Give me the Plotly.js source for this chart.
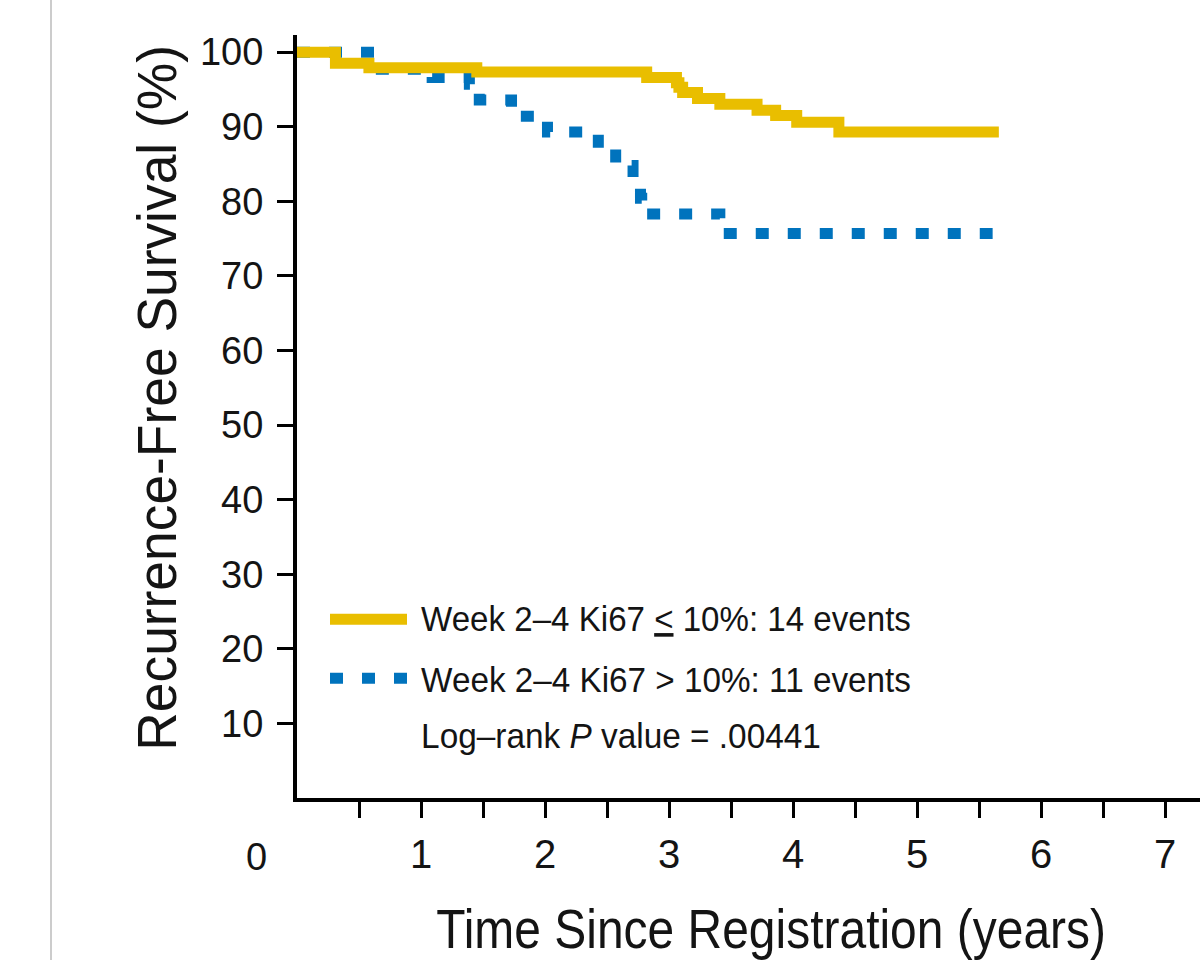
<!DOCTYPE html>
<html>
<head>
<meta charset="utf-8">
<script src="https://cdn.plot.ly/plotly-3.0.1.min.js"></script>
<style>
  html, body { margin: 0; padding: 0; background: #ffffff; }
  #chart { width: 1200px; height: 960px; }
</style>
</head>
<body>
<div id="chart"></div>
<script>
// Ki67 > 10% (blue, dotted) Kaplan–Meier step data
const highTime = [0, 0.625, 1.09, 1.39, 1.47, 1.73, 2.02, 2.43, 2.57, 2.71, 2.77, 2.78, 3.41, 5.61];
const highRFS  = [100, 97.7, 96.6, 95.7, 93.6, 91.4, 89.3, 87.0, 84.8, 82.6, 80.4, 78.3, 75.7, 75.7];
// Ki67 <= 10% (yellow, solid)
const lowTime = [0, 0.31, 0.58, 1.45, 2.82, 3.06, 3.08, 3.11, 3.23, 3.41, 3.71, 3.86, 4.03, 4.37, 5.66];
const lowRFS  = [100, 98.5, 97.9, 97.35, 96.6, 95.9, 95.3, 94.6, 93.8, 93.0, 92.2, 91.5, 90.6, 89.3, 89.3];

const seriesNames = ['Week 2–4 Ki67 <u>&lt;</u> 10%: 14 events', 'Week 2–4 Ki67 &gt; 10%: 11 events'];
const pValueText = 'Log–rank <i>P</i> value = .00441';
const xTickVals = [0.5, 1, 1.5, 2, 2.5, 3, 3.5, 4, 4.5, 5, 5.5, 6, 6.5, 7];
const xTickText = ['', '1', '', '2', '', '3', '', '4', '', '5', '', '6', '', '7'];
const yTickVals = [10, 20, 30, 40, 50, 60, 70, 80, 90, 100];
const yTickText = ['10', '20', '30', '40', '50', '60', '70', '80', '90', '100'];
const xTitle = 'Time Since Registration (years)';
const yTitle = 'Recurrence-Free Survival (%)';

const YELLOW = '#E9BE00';
const BLUE = '#0073BD';
const SANS = '"Liberation Sans", Arial, Helvetica, sans-serif';
const INK = '#141414';

// layout geometry
const W = 1200, H = 960;
const M = {l: 297, r: 0, t: 35, b: 162.4};
const plotW = W - M.l - M.r, plotH = H - M.t - M.b;
const px = p => (p - M.l) / plotW;        // pixel x -> paper x
const py = p => (H - M.b - p) / plotH;    // pixel y -> paper y

const traces = [
  {
    x: highTime, y: highRFS, type: 'scatter', mode: 'lines',
    line: {shape: 'hv', color: BLUE, width: 11, dash: '13px,19px'},
    name: 'Week 2–4 Ki67 > 10%', showlegend: false, hoverinfo: 'skip'
  },
  {
    x: lowTime, y: lowRFS, type: 'scatter', mode: 'lines',
    line: {shape: 'hv', color: YELLOW, width: 11},
    name: 'Week 2–4 Ki67 ≤ 10%', showlegend: false, hoverinfo: 'skip'
  }
];

const layout = {
  width: W, height: H,
  margin: M,
  paper_bgcolor: '#ffffff', plot_bgcolor: '#ffffff',
  showlegend: false,
  xaxis: {
    range: [0, (W - M.l - M.r) / 124], fixedrange: true,
    showgrid: false, zeroline: false,
    showline: true, linecolor: '#000', linewidth: 4,
    ticks: 'outside', ticklen: 16, tickwidth: 3, tickcolor: '#000',
    tickmode: 'array', tickvals: xTickVals, ticktext: xTickText,
    ticklabelstandoff: 2,
    tickfont: {family: SANS, size: 40, color: INK}
  },
  yaxis: {
    range: [0, 102.3], fixedrange: true,
    showgrid: false, zeroline: false,
    showline: true, linecolor: '#000', linewidth: 4,
    ticks: 'outside', ticklen: 16, tickwidth: 3, tickcolor: '#000',
    tickmode: 'array', tickvals: yTickVals, ticktext: yTickText,
    ticklabelstandoff: 6,
    tickfont: {family: SANS, size: 38, color: INK}
  },
  shapes: [
    {type: 'line', xref: 'paper', yref: 'paper', x0: px(51), x1: px(51), y0: py(0), y1: py(960),
     line: {color: '#cccccc', width: 2}},
    {type: 'line', xref: 'paper', yref: 'paper', x0: px(330), x1: px(407), y0: py(619), y1: py(619),
     line: {color: YELLOW, width: 11}},
    {type: 'line', xref: 'paper', yref: 'paper', x0: px(330), x1: px(407), y0: py(678), y1: py(678),
     line: {color: BLUE, width: 11, dash: '13px,19px'}}
  ],
  annotations: [
    {text: seriesNames[0], xref: 'paper', yref: 'paper', x: px(419), y: py(618), xanchor: 'left', yanchor: 'middle',
     showarrow: false, font: {family: SANS, size: 36, color: INK}},
    {text: seriesNames[1], xref: 'paper', yref: 'paper', x: px(419), y: py(679), xanchor: 'left', yanchor: 'middle',
     showarrow: false, font: {family: SANS, size: 36, color: INK}},
    {text: pValueText, xref: 'paper', yref: 'paper', x: px(419), y: py(735), xanchor: 'left', yanchor: 'middle',
     showarrow: false, font: {family: SANS, size: 36, color: INK}},
    {text: '0', xref: 'paper', yref: 'paper', x: px(256), y: py(857), xanchor: 'center', yanchor: 'middle',
     showarrow: false, font: {family: SANS, size: 38, color: INK}},
    {text: xTitle, xref: 'paper', yref: 'paper', x: px(771), y: py(928), xanchor: 'center', yanchor: 'middle',
     showarrow: false, font: {family: SANS, size: 56, color: INK}},
    {text: yTitle, xref: 'paper', yref: 'paper', x: px(156), y: py(398), xanchor: 'center', yanchor: 'middle',
     textangle: -90, showarrow: false, font: {family: SANS, size: 56, color: INK}}
  ]
};

// target lengths (px) of the condensed texts in the reference, by annotation index
const fitLength = {0: 490, 1: 490, 2: 400, 4: 670, 5: 706};
const fitOrigin = {0: 'left center', 1: 'left center', 2: 'left center', 4: 'center', 5: 'center'};

Plotly.newPlot('chart', traces, layout, {staticPlot: true, displayModeBar: false}).then(gd => {
  gd.querySelectorAll('g.annotation').forEach(g => {
    const idx = +g.getAttribute('data-index');
    if (!(idx in fitLength)) return;
    const t = g.querySelector('text.annotation-text');
    if (!t) return;
    const w = t.getBBox().width;
    if (!w) return;
    const s = fitLength[idx] / w;
    t.style.transformBox = 'fill-box';
    t.style.transformOrigin = fitOrigin[idx];
    t.style.transform = 'scaleX(' + s.toFixed(4) + ')';
  });
});
</script>
</body>
</html>
